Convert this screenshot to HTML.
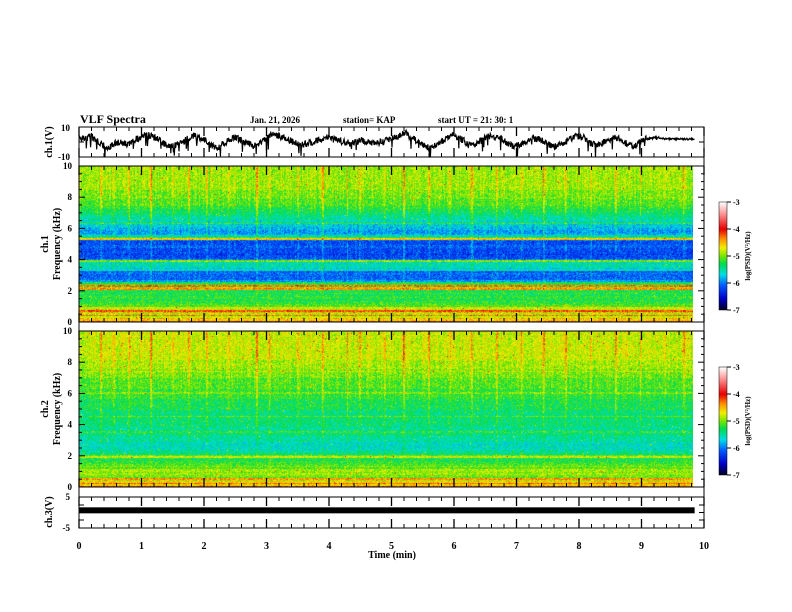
<!DOCTYPE html>
<html><head><meta charset="utf-8">
<style>
body{margin:0;background:#fff;}
#wrap{position:relative;width:792px;height:612px;overflow:hidden;font-family:"Liberation Serif",serif;font-weight:bold;color:#000;}
svg text{font-family:"Liberation Serif",serif;font-weight:bold;}
canvas{position:absolute;}
</style></head>
<body>
<div id="wrap">
<canvas id="spec1" width="614" height="156" style="left:79px;top:166px;"></canvas>
<canvas id="spec2" width="614" height="156" style="left:79px;top:331px;"></canvas>
<canvas id="cb1" width="8" height="108" style="left:719px;top:202px;"></canvas>
<canvas id="cb2" width="8" height="108" style="left:719px;top:367px;"></canvas>
<svg id="svg" width="792" height="612" style="position:absolute;left:0;top:0;"></svg>
</div>
<script>
// ---- data ----
const timeTicks=[0,1,2,3,4,5,6,7,8,9,10];
const freqTicks=[0,2,4,6,8,10];
const cbTicks=[-3,-4,-5,-6,-7];
const ch1Volts=[3,2,4,1,-2,-4,-1,0,-2,1,3,5,4,2,-1,-3,-2,0,2,4,3,1,-2,-4,-1,2,3,1,-1,-3,-1,2,5,4,3,1,-1,-2,-1,0,2,3,2,1,0,-1,0,1,0,-1,0,1,3,4,6,3,1,-2,-4,-2,0,3,5,3,0,-3,-1,2,4,3,2,-1,-3,-2,0,3,2,0,-2,-3,-1,1,3,4,2,-1,-2,0,2,3,1,-2,-3,0,2,3,3,2,2,2,2,2,2];
const ch3Volts=[0.7,0.7,0.7,0.7,0.7,0.7,0.7,0.7,0.7,0.7,0.7];
const ch1Band=[-4.2,-4.6,-4.5,-4.8,-4.3,-4.9,-4.5,-4.2,-4.8,-4.7,-5.1,-5.1,-5.2,-5.2,-5.3,-5.2,-5.2,-5.3,-5.2,-5.3,-5.3,-4.4,-5.0,-4.3,-5.2,-5.3,-5.9,-6.1,-6.1,-6.1,-6.1,-6.0,-6.1,-5.6,-5.7,-5.6,-5.5,-5.6,-5.6,-5.0,-6.0,-6.2,-6.2,-6.3,-6.2,-6.2,-6.2,-6.2,-6.1,-6.1,-6.2,-6.2,-6.1,-4.6,-5.2,-5.6,-5.8,-5.9,-5.9,-5.8,-5.8,-5.7,-5.7,-5.2,-5.6,-5.6,-5.5,-5.5,-5.4,-5.4,-5.3,-5.3,-5.3,-5.2,-5.2,-5.1,-5.1,-5.1,-5.1,-5.0,-5.0,-5.0,-5.0,-5.0,-5.0,-4.9,-4.9,-4.9,-4.9,-4.9,-4.9,-4.9,-4.9,-4.9,-4.9,-4.9,-4.9,-4.9,-4.9,-4.9];
const ch2Band=[-4.2,-4.6,-4.3,-4.6,-4.9,-4.4,-5.1,-5.0,-4.9,-5.0,-4.9,-4.9,-5.1,-5.0,-5.1,-5.2,-5.2,-5.3,-5.3,-4.8,-5.1,-5.4,-5.5,-5.5,-5.6,-5.6,-5.6,-5.6,-5.6,-5.5,-5.5,-5.5,-5.5,-5.4,-5.5,-5.2,-5.5,-5.5,-5.5,-5.4,-5.4,-5.4,-5.4,-5.4,-5.4,-5.1,-5.4,-5.4,-5.4,-5.4,-5.3,-5.3,-5.3,-5.3,-5.3,-5.3,-5.3,-5.2,-5.2,-5.2,-5.0,-5.2,-5.2,-5.1,-5.1,-5.1,-5.1,-5.1,-5.1,-5.1,-5.0,-5.0,-5.0,-5.0,-4.8,-5.0,-4.9,-4.9,-4.9,-4.9,-4.9,-4.9,-4.8,-4.8,-4.8,-4.8,-4.8,-4.8,-4.8,-4.8,-4.8,-4.8,-4.8,-4.8,-4.8,-4.8,-4.8,-4.8,-4.8,-4.8];
const streakTimes=[0.35,0.55,0.8,1.15,1.5,1.75,2.05,2.4,2.85,3.05,3.5,3.9,4.3,4.5,4.9,5.2,5.6,5.95,6.3,6.7,7.1,7.45,7.8,8.2,8.6,9.0,9.4,9.7];
const streakStrength=[0.5,0.3,0.4,0.6,0.3,0.5,0.4,0.3,0.6,0.4,0.3,0.5,0.7,0.4,0.3,0.6,0.4,0.3,0.5,0.4,0.3,0.5,0.4,0.3,0.5,0.4,0.3,0.4];
// ---- axes ----
const X0=79,X1=704;
const xs=t=>X0+(t/10)*(X1-X0);
const tEnd=9.85;
const NS="http://www.w3.org/2000/svg";
const svg=document.getElementById('svg');
function el(tag,attrs,parent){const e=document.createElementNS(NS,tag);for(const k in attrs)e.setAttribute(k,attrs[k]);(parent||svg).appendChild(e);return e;}
function txt(x,y,s,size,anchor,rot){const e=el('text',{x:x,y:y,'font-size':size,'text-anchor':anchor||'start'});if(rot)e.setAttribute('transform','rotate(-90 '+x+' '+y+')');e.textContent=s;return e;}
const stops=[[-7,[0,0,40]],[-6.6,[0,0,200]],[-6.1,[0,90,255]],[-5.7,[0,220,230]],[-5.3,[0,220,80]],[-5.0,[120,230,0]],[-4.7,[240,240,0]],[-4.35,[255,140,0]],[-4.0,[230,0,0]],[-3.5,[250,130,130]],[-3,[255,255,255]]];
function cmap(v){if(v<=-7)return stops[0][1];if(v>=-3)return stops[stops.length-1][1];for(let i=0;i<stops.length-1;i++){const a=stops[i],b=stops[i+1];if(v>=a[0]&&v<=b[0]){const f=(v-a[0])/(b[0]-a[0]);return a[1].map((c,j)=>Math.round(c+(b[1][j]-c)*f));}}}
function hash(i,j){let h=(i*374761393+j*668265263)|0;h=(h^(h>>>13))*1274126177|0;return ((h^(h>>>16))>>>0)/4294967295;}
function drawSpec(id,band,seed){
  const c=document.getElementById(id),ctx=c.getContext('2d');
  const W=c.width,H=c.height,nf=band.length;
  const img=ctx.createImageData(W,H);
  for(let x=0;x<W;x++){
    const t=x/W*tEnd;
    let st=0;for(let k=0;k<streakTimes.length;k++){const d=Math.abs(t-streakTimes[k]);if(d<0.015)st+=streakStrength[k];}
    const colN=(hash(x,seed)-0.5);
    for(let y=0;y<H;y++){
      const f=(1-y/H)*10;const bi=Math.min(nf-1,Math.floor(f/10*nf));
      const hf=f/10;
      let v=band[bi]+(hash(x*7+seed,y*3)-0.5)*0.5+colN*0.25*hf+st*hf*0.9;
      if(hash(x,y+seed*9)>0.99)v+=0.6;
      const col=cmap(v);const p=(y*W+x)*4;
      img.data[p]=col[0];img.data[p+1]=col[1];img.data[p+2]=col[2];img.data[p+3]=255;
    }
  }
  ctx.putImageData(img,0,0);
}
drawSpec('spec1',ch1Band,11);drawSpec('spec2',ch2Band,29);
function drawCb(id){const c=document.getElementById(id),ctx=c.getContext('2d');for(let y=0;y<c.height;y++){const v=-3-4*y/(c.height-1);const col=cmap(v);ctx.fillStyle='rgb('+col+')';ctx.fillRect(0,y,c.width,1);}}
drawCb('cb1');drawCb('cb2');
const panels=[{top:127,bot:157,name:'ch1-waveform-panel'},{top:166,bot:322,name:'ch1-spectrogram-panel'},{top:331,bot:487,name:'ch2-spectrogram-panel'},{top:497,bot:528,name:'ch3-waveform-panel'}];
panels.forEach(p=>{const r=el('rect',{x:X0,y:p.top,width:X1-X0,height:p.bot-p.top,fill:'none',stroke:'#000','stroke-width':1});});
[[157,166],[322,331],[487,497]].forEach(([a,b])=>{el('rect',{x:X0,y:a,width:X1-X0,height:b-a,fill:'#fff',stroke:'#000'});});
const edges=[127,157,166,322,331,487,497,528];
edges.forEach((y,ei)=>{
  for(let m=0;m<=50;m++){const t=m*0.2,x=xs(t);const major=m%5==0;const len=major?9:4;
    const dir=(ei%2==0)?1:-1;el('line',{x1:x,y1:y,x2:x,y2:y+dir*len,stroke:'#000','stroke-width':major?1.3:1});}
});
timeTicks.forEach(t=>{const e=txt(xs(t),549,String(t),10,'middle');});
const xt=txt(392,558,'Time  (min)',10,'middle');
txt(80,123,'VLF  Spectra',12,'start');
txt(250,123,'Jan.  21,  2026',9,'start');
txt(343,123,'station= KAP',9,'start');
txt(438,123,'start  UT  =   21: 30: 1',9,'start');
const wy=v=>142-v/10*15;
let d2='';const n=ch1Volts.length;
for(let i=0;i<n-1;i++){const amp=i<n-9?1:0.25;for(let k=0;k<14;k++){const f=k/14;let v=ch1Volts[i]*(1-f)+ch1Volts[i+1]*f+(hash(i,k)-0.5)*4.5*amp;if(hash(k,i+77)>0.97)v-=6*amp;const x=xs((i+f)/(n-1)*tEnd);d2+=(d2?'L':'M')+x.toFixed(1)+' '+wy(v).toFixed(1);}}
const wl=el('path',{d:d2,fill:'none',stroke:'#000','stroke-width':1.2});
txt(70,131,'10',9,'end');txt(70,160,'-10',9,'end');
[127,142,157].forEach(y=>{el('line',{x1:X0,y1:y,x2:X0+5,y2:y,stroke:'#000'});el('line',{x1:X1,y1:y,x2:X1-5,y2:y,stroke:'#000'});});
txt(52,142,'ch.1(V)',10,'middle',true);
const y3=v=>512.5-v/5*15.5;
const b3=el('rect',{x:X0,y:y3(ch3Volts[0])-3,width:xs(tEnd)-X0,height:6,fill:'#000'});
txt(70,500,'5',9,'end');txt(70,531,'-5',9,'end');
[497,505,512.5,520,528].forEach(y=>{el('line',{x1:X0,y1:y,x2:X0+5,y2:y,stroke:'#000'});el('line',{x1:X1,y1:y,x2:X1-5,y2:y,stroke:'#000'});});
txt(52,512,'ch.3(V)',10,'middle',true);
[[166,322,'ch.1'],[331,487,'ch.2']].forEach(([top,bot,lab])=>{
  const fy=f=>bot-f/10*(bot-top);
  freqTicks.forEach(f=>{const e=txt(72,fy(f)+3,String(f),9,'end');});
  for(let f=0;f<=10;f+=0.5){const L=(f%2==0)?6:3;el('line',{x1:X0,y1:fy(f),x2:X0+L,y2:fy(f),stroke:'#000'});el('line',{x1:X1,y1:fy(f),x2:X1-L,y2:fy(f),stroke:'#000'});}
  const mid=(top+bot)/2;
  txt(48,mid,lab,10,'middle',true);txt(60,mid,'Frequency  (kHz)',10,'middle',true);
  const ct=top+36,cbH=108;
  el('rect',{x:719,y:ct,width:8,height:cbH,fill:'none',stroke:'#000','stroke-width':0.5});
  cbTicks.forEach(v=>{const y=ct+(-3-v)/4*cbH;el('line',{x1:727,y1:y,x2:731,y2:y,stroke:'#000'});txt(733,y+3,String(v),8,'start');});
  const ct2=txt(750,ct+cbH/2,'log(PSD)(V\u00b2/Hz)',7,'middle',true);
});
</script>
</body></html>
